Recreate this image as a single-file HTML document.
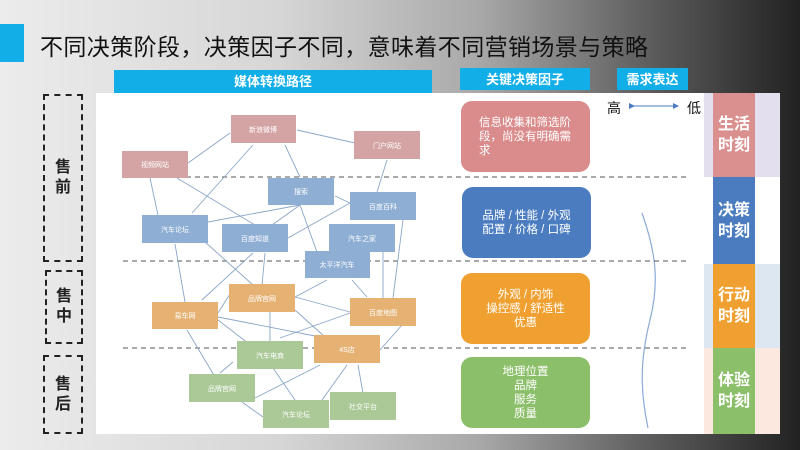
<!DOCTYPE html>
<html><head><meta charset="utf-8">
<style>
*{margin:0;padding:0;box-sizing:border-box}
body{width:800px;height:450px;overflow:hidden;position:relative;font-family:"Liberation Sans","Noto Sans CJK SC",sans-serif;
background:linear-gradient(to right,#ececec 0%,#d6d6d6 35%,#a8a8a8 60%,#5a5a5a 82%,#222 100%);}
.abs{position:absolute}
.hdr{background:#12aee8;color:#fff;font-weight:bold;font-size:13px;text-align:center;line-height:23px}
.stage{border:2px dashed #222;display:flex;align-items:center;justify-content:center;font-size:16px;font-weight:bold;color:#222;line-height:20px;text-align:center}
.fac{border-radius:11px;color:#fff;font-size:11.5px;line-height:14px;display:flex;align-items:center;justify-content:center;text-align:center}
.bar{color:#fff;font-size:16px;font-weight:bold;line-height:21px;display:flex;align-items:center;justify-content:center;text-align:center}
</style></head><body>
<div class="abs" style="left:0;top:24px;width:24px;height:38px;background:#12aee8"></div>
<div class="abs" style="left:40px;top:28px;font-size:23px;letter-spacing:0.4px;color:#111;white-space:nowrap">不同决策阶段，决策因子不同，意味着不同营销场景与策略</div>
<div class="abs hdr" style="left:114px;top:70px;width:318px;height:23px">媒体转换路径</div>
<div class="abs hdr" style="left:460px;top:68px;width:130px;height:22px">关键决策因子</div>
<div class="abs hdr" style="left:617px;top:68px;width:71px;height:22px">需求表达</div>
<div class="abs" style="left:96px;top:93px;width:684px;height:341px;background:#fff"></div>
<div class="abs" style="left:704px;top:93px;width:76px;height:84px;background:#e3dfee"></div>
<div class="abs" style="left:704px;top:264px;width:76px;height:84px;background:#dde7f2"></div>
<div class="abs" style="left:704px;top:348px;width:76px;height:86px;background:#fde8df"></div>
<div class="abs bar" style="left:713px;top:93px;width:42px;height:84px;background:#db9090">生活<br>时刻</div>
<div class="abs bar" style="left:713px;top:177px;width:42px;height:87px;background:#4a7cbf">决策<br>时刻</div>
<div class="abs bar" style="left:713px;top:264px;width:42px;height:84px;background:#f0a030">行动<br>时刻</div>
<div class="abs bar" style="left:713px;top:348px;width:42px;height:86px;background:#8cbf6a">体验<br>时刻</div>
<div class="abs stage" style="left:43px;top:94px;width:40px;height:168px">售<br>前</div>
<div class="abs stage" style="left:45px;top:270px;width:38px;height:74px">售<br>中</div>
<div class="abs stage" style="left:43px;top:355px;width:40px;height:79px">售<br>后</div>
<div class="abs fac" style="left:461px;top:101px;width:129px;height:71px;background:#da8c8c;text-align:left;justify-content:flex-start;padding-left:18px;padding-right:10px">信息收集和筛选阶段，尚没有明确需求</div>
<div class="abs fac" style="left:462px;top:187px;width:129px;height:71px;background:#4a7cbf">品牌 / 性能 / 外观<br>配置 / 价格 / 口碑</div>
<div class="abs fac" style="left:461px;top:273px;width:129px;height:71px;background:#f0a030">外观 / 内饰<br>操控感 / 舒适性<br>优惠</div>
<div class="abs fac" style="left:461px;top:357px;width:129px;height:71px;background:#8cbf6a">地理位置<br>品牌<br>服务<br>质量</div>
<div class="abs" style="left:607px;top:98px;font-size:14px;color:#111">高</div>
<div class="abs" style="left:687px;top:98px;font-size:14px;color:#111">低</div>
<svg class="abs" style="left:0;top:0" width="800" height="450">
<defs><marker id="a" markerWidth="6" markerHeight="6" refX="3" refY="3" orient="auto"><path d="M0,0L6,3L0,6z" fill="#4a7cbf"/></marker></defs>
<line x1="632" y1="106" x2="676" y2="106" stroke="#4a7cbf" stroke-width="1" marker-start="url(#a)" marker-end="url(#a)"/>
<path d="M642,213 C655,250 660,280 650,320 C640,360 640,390 648,428" fill="none" stroke="#8aaad6" stroke-width="1.2"/>
<g stroke="#555" stroke-width="1" stroke-dasharray="5,4">
<line x1="123" y1="177" x2="690" y2="177"/><line x1="123" y1="261" x2="690" y2="261"/><line x1="123" y1="348" x2="690" y2="348"/></g>
<g stroke="#8aa6c8" stroke-width="0.9">
<line x1="230" y1="133" x2="188" y2="163"/><line x1="253" y1="145" x2="192" y2="213"/><line x1="285" y1="145" x2="300" y2="177"/>
<line x1="297" y1="130" x2="355" y2="143"/><line x1="387" y1="160" x2="377" y2="192"/><line x1="150" y1="178" x2="158" y2="215"/>
<line x1="177" y1="178" x2="255" y2="225"/><line x1="300" y1="205" x2="208" y2="222"/><line x1="300" y1="205" x2="272" y2="225"/>
<line x1="300" y1="205" x2="317" y2="252"/><line x1="335" y1="196" x2="350" y2="203"/><line x1="350" y1="203" x2="288" y2="238"/>
<line x1="403" y1="220" x2="393" y2="298"/><line x1="383" y1="252" x2="383" y2="298"/><line x1="175" y1="244" x2="185" y2="302"/>
<line x1="205" y1="242" x2="253" y2="285"/><line x1="253" y1="253" x2="202" y2="300"/><line x1="265" y1="253" x2="262" y2="285"/>
<line x1="327" y1="280" x2="295" y2="297"/><line x1="352" y1="280" x2="367" y2="297"/><line x1="295" y1="297" x2="350" y2="312"/>
<line x1="230" y1="294" x2="218" y2="313"/><line x1="270" y1="312" x2="270" y2="342"/><line x1="295" y1="310" x2="325" y2="337"/>
<line x1="350" y1="313" x2="280" y2="338"/><line x1="218" y1="317" x2="320" y2="337"/><line x1="218" y1="320" x2="253" y2="347"/>
<line x1="187" y1="330" x2="215" y2="377"/><line x1="402" y1="325" x2="380" y2="350"/><line x1="233" y1="362" x2="220" y2="373"/>
<line x1="273" y1="368" x2="295" y2="400"/><line x1="320" y1="365" x2="255" y2="398"/><line x1="347" y1="365" x2="322" y2="400"/>
<line x1="358" y1="365" x2="363" y2="393"/><line x1="242" y1="402" x2="263" y2="417"/>
</g>
<g font-size="7" fill="#fff" text-anchor="middle" font-family="Liberation Sans,Noto Sans CJK SC,sans-serif">
<g fill="#d4a4a4"><rect x="231" y="115" width="65" height="28"/><rect x="354" y="131" width="66" height="28"/><rect x="122" y="151" width="66" height="27"/></g>
<g fill="#8eaed4"><rect x="268" y="178" width="66" height="27"/><rect x="350" y="192" width="66" height="28"/><rect x="142" y="215" width="66" height="28"/><rect x="222" y="224" width="66" height="28"/><rect x="329" y="224" width="66" height="28"/><rect x="305" y="251" width="65" height="27"/></g>
<g fill="#e5b274"><rect x="229" y="284" width="66" height="28"/><rect x="152" y="302" width="66" height="27"/><rect x="350" y="298" width="66" height="28"/><rect x="314" y="335" width="66" height="28"/></g>
<g fill="#abc997"><rect x="237" y="341" width="66" height="28"/><rect x="189" y="374" width="66" height="28"/><rect x="263" y="400" width="66" height="28"/><rect x="330" y="392" width="66" height="28"/></g>
<text x="263" y="132">新浪微博</text><text x="387" y="148">门户网站</text><text x="155" y="167">视频网站</text>
<text x="301" y="194">搜索</text><text x="383" y="209">百度百科</text><text x="175" y="232">汽车论坛</text><text x="255" y="241">百度知道</text><text x="362" y="241">汽车之家</text><text x="337" y="267">太平洋汽车</text>
<text x="262" y="301">品牌官网</text><text x="185" y="318">易车网</text><text x="383" y="315">百度地图</text><text x="347" y="352">4S店</text>
<text x="270" y="358">汽车电商</text><text x="222" y="391">品牌官网</text><text x="296" y="417">汽车论坛</text><text x="363" y="409">社交平台</text>
</g>
</svg>
</body></html>
